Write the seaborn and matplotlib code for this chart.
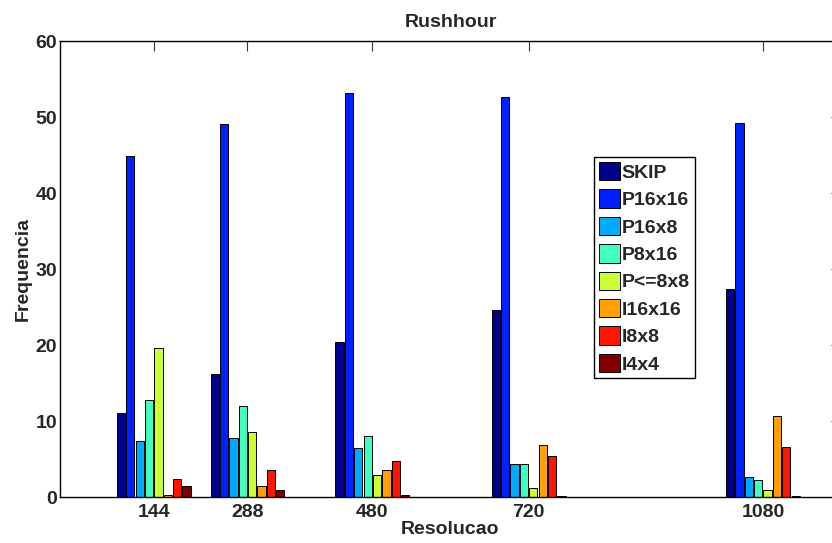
import numpy as np
import pandas as pd
import matplotlib
matplotlib.use("Agg")
import matplotlib.pyplot as plt
import seaborn as sns

# -----------------------------
# data
# -----------------------------
resolucoes = [144, 288, 480, 720, 1080]
tipos = ["SKIP", "P16x16", "P16x8", "P8x16", "P<=8x8", "I16x16", "I8x8", "I4x4"]

skip    = [11.0, 16.2, 20.4, 24.6, 27.4]
p16x16  = [44.9, 49.1, 53.2, 52.6, 49.2]
p16x8   = [7.4, 7.7, 6.5, 4.4, 2.6]
p8x16   = [12.7, 12.0, 8.0, 4.4, 2.3]
p8x8    = [19.6, 8.5, 2.9, 1.2, 0.9]
i16x16  = [0.2, 1.5, 3.5, 6.8, 10.6]
i8x8    = [2.4, 3.6, 4.7, 5.4, 6.6]
i4x4    = [1.4, 0.9, 0.3, 0.1, 0.1]

cores = ["#00008F", "#0020FF", "#00AAFF", "#40FFC0",
         "#CCFF33", "#FFA000", "#FF1500", "#800000"]

series = [skip, p16x16, p16x8, p8x16, p8x8, i16x16, i8x8, i4x4]
rows = []
for tipo, vals in zip(tipos, series):
    for r, v in zip(resolucoes, vals):
        rows.append({"Resolucao": r, "Frequencia": v, "Tipo": tipo})
df = pd.DataFrame(rows)

# -----------------------------
# plot
# -----------------------------
sns.set_style("white")
plt.rcParams["font.family"] = ["Liberation Sans", "DejaVu Sans"]
plt.rcParams["font.weight"] = "bold"

fig = plt.figure(figsize=(8.32, 5.43), dpi=100)
ax = fig.add_axes([60 / 832, 1 - 497 / 543, 781 / 832, 456 / 543])

sns.barplot(data=df, x="Resolucao", y="Frequencia", hue="Tipo",
            hue_order=tipos, palette=cores, saturation=1, native_scale=True,
            width=0.8, gap=0.12, edgecolor="black", linewidth=0.7,
            errorbar=None, ax=ax)

ax.set_xlim(0, 1200)
ax.set_ylim(0, 60)
ax.set_xticks(resolucoes)
ax.set_xticklabels([str(r) for r in resolucoes])
ax.set_yticks(range(0, 61, 10))

for s in ax.spines.values():
    s.set_color("black")
    s.set_linewidth(1.0)

ax.tick_params(direction="in", length=7, width=0.8, color="#333333",
               top=True, right=True, labelsize=14)
ax.tick_params(axis="x", pad=5)
ax.tick_params(axis="y", pad=2)
for lab in ax.get_xticklabels() + ax.get_yticklabels():
    lab.set_fontweight("bold")

ax.set_title("Rushhour", fontsize=14, fontweight="bold", pad=10)
ax.set_xlabel("Resolucao", fontsize=14, fontweight="bold", labelpad=0)
ax.set_ylabel("Frequencia", fontsize=14, fontweight="bold", labelpad=3)

handles, labels = ax.get_legend_handles_labels()
ax.legend(handles, labels, loc="upper left",
          bbox_to_anchor=(594 / 832, 1 - 157 / 543),
          bbox_transform=fig.transFigure,
          fancybox=False, framealpha=1, edgecolor="black",
          borderpad=0.25, handlelength=1.08, handleheight=1.08,
          handletextpad=0.1, labelspacing=0.39, borderaxespad=0,
          prop={"weight": "bold", "size": 14})
ax.get_legend().get_frame().set_linewidth(1.0)

fig.savefig("out.png", dpi=100)
